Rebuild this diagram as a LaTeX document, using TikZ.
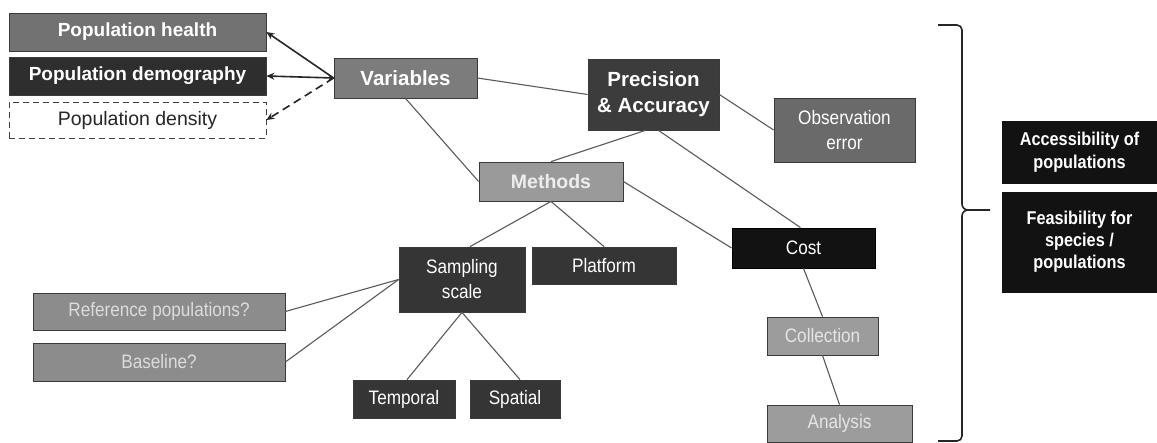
\documentclass[tikz,border=0pt]{standalone}
\usepackage{fontspec}
\setmainfont{Liberation Sans}
\newfontfamily\narrowfont{Liberation Sans}[FakeStretch=0.88]
\usetikzlibrary{arrows.meta}
\definecolor{edgec}{HTML}{3A3A3A}
\definecolor{linec}{HTML}{5A5A5A}
\definecolor{gmid}{HTML}{727272}
\definecolor{gdark}{HTML}{2E2E2E}
\definecolor{gvar}{HTML}{7C7C7C}
\definecolor{gprec}{HTML}{3C3C3C}
\definecolor{gobs}{HTML}{6A6A6A}
\definecolor{gmeth}{HTML}{9A9A9A}
\definecolor{gblack}{HTML}{121212}
\definecolor{gsamp}{HTML}{353535}
\definecolor{gref}{HTML}{8C8C8C}
\definecolor{gcoll}{HTML}{9C9C9C}
\definecolor{tlight}{HTML}{DCDCDC}
\begin{document}
\begin{tikzpicture}[x=1pt,y=-1pt,
  box/.style={draw=edgec, line width=0.8pt, inner sep=0pt, align=center, text=white},
  conn/.style={draw=linec, line width=1.1pt},
  arr/.style={draw=black!85, line width=1.6pt, -{Stealth[length=8pt,width=7pt]}},
  bigb/.style={font=\fontsize{19}{22}\selectfont\bfseries},
  labn/.style={font=\narrowfont\fontsize{19.5}{25}\selectfont},
]
\useasboundingbox (0,0) rectangle (1157,443);
\fill[white] (0,0) rectangle (1157,443);

% left column
\node[box, fill=gmid, bigb, minimum width=257, minimum height=38] (health) at (137.5,32) {Population health};
\node[box, fill=gdark, bigb, minimum width=257, minimum height=38] (demog) at (137.5,76) {Population demography};
\node[box, draw=black!75, dash pattern=on 6pt off 4pt, fill=white, text=black!85, font=\fontsize{19.5}{22}\selectfont, minimum width=257, minimum height=36] (dens) at (137.5,120) {Population density};

\node[box, fill=gvar, font=\fontsize{20.5}{24}\selectfont\bfseries, minimum width=143, minimum height=40] (var) at (405.5,78) {Variables};
\node[box, fill=gprec, font=\fontsize{20.5}{26}\selectfont\bfseries, minimum width=131, minimum height=71] (prec) at (653.5,94.5) {Precision\\\& Accuracy};
\node[box, fill=gobs, labn, minimum width=141, minimum height=64] (obs) at (844.5,130) {Observation\\error};
\node[box, fill=gmeth, text=white!93!black, font=\fontsize{19.5}{24}\selectfont\bfseries, minimum width=144, minimum height=39] (meth) at (551,181.5) {Methods};
\node[box, fill=gblack, draw=black, labn, minimum width=143, minimum height=40] (cost) at (803.5,248) {Cost};
\node[box, fill=gsamp, labn, minimum width=126, minimum height=65] (samp) at (462,279.5) {Sampling\\scale};
\node[box, fill=gsamp, labn, minimum width=144, minimum height=37] (plat) at (604,265.5) {Platform};
\node[box, fill=gref, text=tlight, labn, minimum width=252, minimum height=37] (ref) at (159,311.5) {Reference populations?};
\node[box, fill=gref, text=tlight, labn, minimum width=252, minimum height=38] (base) at (159,362) {Baseline?};
\node[box, fill=gsamp, labn, minimum width=102, minimum height=38] (temp) at (404,399) {Temporal};
\node[box, fill=gsamp, labn, minimum width=90, minimum height=38] (spat) at (515,399) {Spatial};
\node[box, fill=gcoll, text=white!90!black, labn, minimum width=111, minimum height=38] (coll) at (822.5,336) {Collection};
\node[box, fill=gcoll, text=white!90!black, labn, minimum width=145, minimum height=37] (anal) at (839.5,423.5) {Analysis};

\node[box, fill=gblack, draw=gblack, font=\narrowfont\fontsize{18.5}{23}\selectfont\bfseries, minimum width=155, minimum height=62] (acc) at (1079.5,152) {Accessibility of\\populations};
\node[box, fill=gblack, draw=gblack, font=\narrowfont\fontsize{18.5}{22}\selectfont\bfseries, minimum width=155, minimum height=100] (feas) at (1079.5,242) {Feasibility for\\species /\\populations};

% arrows from Variables
\draw[arr] (var.west) -- (health.east);
\draw[arr, {Stealth[length=8pt,width=7pt]}-{Stealth[length=5pt,width=5pt]}] (demog.east) -- (var.west);
\draw[arr, dash pattern=on 8pt off 5pt] (var.west) -- (dens.east);

% connectors
\draw[conn] (var.east) -- (prec.west);
\draw[conn] (var.south) -- (meth.west);
\draw[conn] (prec.east) -- (obs.west);
\draw[conn] ([xshift=-8pt]prec.south) -- (meth.north);
\draw[conn] ([xshift=5pt]prec.south) -- ([xshift=-3pt]cost.north);
\draw[conn] (meth.east) -- (cost.west);
\draw[conn] (meth.south) -- ([xshift=8pt]samp.north);
\draw[conn] (meth.south) -- (plat.north);
\draw[conn] (ref.east) -- (samp.west);
\draw[conn] (base.east) -- (samp.west);
\draw[conn] (samp.south) -- ([xshift=3pt]temp.north);
\draw[conn] (samp.south) -- ([xshift=5pt]spat.north);
\draw[conn] (cost.south) -- (coll.north);
\draw[conn] (coll.south) -- (anal.north);

% brace
\coordinate (btip) at (990,210);
\draw[black!85, line width=1.6pt, line join=round]
  (938,25) -- (957,25) to[out=0,in=90] (962,30) -- (962,204)
  to[out=-90,in=180] (968,210) -- (btip);
\draw[black!85, line width=1.6pt, line join=round]
  (968,210) to[out=180,in=90] (962,216) -- (962,436)
  to[out=-90,in=0] (957,441) -- (938,441);
\end{tikzpicture}
\end{document}
